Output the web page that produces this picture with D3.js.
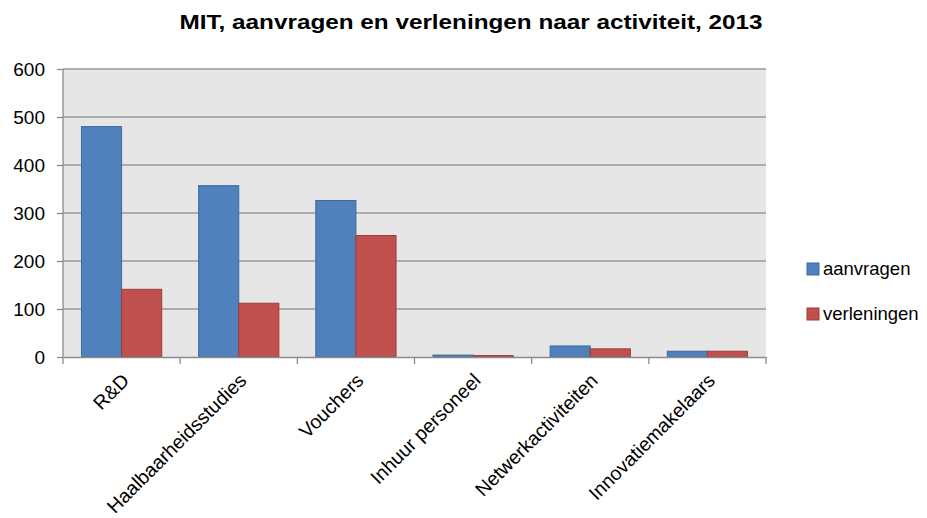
<!DOCTYPE html>
<html><head><meta charset="utf-8">
<script src="https://cdn.jsdelivr.net/npm/d3@7"></script>
<style>body{margin:0;background:#fff}svg{display:block}text{font-family:"Liberation Sans",Arial,sans-serif}</style>
</head><body>
<svg id="c" width="927" height="518"></svg>
<script>
const categories = ["R&D","Haalbaarheidsstudies","Vouchers","Inhuur personeel","Netwerkactiviteiten","Innovatiemakelaars"];
const seriesNames = ["aanvragen","verleningen"];
const aanvragen = [480, 357, 326, 4, 23, 12];
const verleningen = [141, 112, 253, 3, 17, 12];
const yTicks = [0,100,200,300,400,500,600];
const colors = ["#4F81BD","#C0504D"];
const strokes = ["#3C6A9E","#9E3D3A"];

const svg = d3.select("#c");
const m = {l:63, r:766, t:69, b:357};
const x = d3.scaleBand().domain(categories).range([m.l, m.r]).paddingInner(0).paddingOuter(0);
const x1 = d3.scaleBand().domain(seriesNames).range([0, x.bandwidth()]).paddingInner(0).paddingOuter(0.46);
const y = d3.scaleLinear().domain([0,600]).range([m.b, m.t]);

svg.append("rect").attr("x",m.l).attr("y",m.t).attr("width",m.r-m.l).attr("height",m.b-m.t).attr("fill","#E6E6E6");

// gridlines
svg.append("g").selectAll("line").data(yTicks.filter(d=>d>0)).join("line")
  .attr("x1",m.l).attr("x2",m.r).attr("y1",d=>y(d)).attr("y2",d=>y(d))
  .attr("stroke","#9A9A9A").attr("stroke-width",1.3);

// bars
const data = categories.map((c,i)=>({c, vals:[aanvragen[i], verleningen[i]]}));
const g = svg.append("g").selectAll("g").data(data).join("g").attr("transform",d=>`translate(${x(d.c)},0)`);
g.selectAll("rect").data(d=>d.vals.map((v,j)=>({k:seriesNames[j], v, j}))).join("rect")
  .attr("x",d=>x1(d.k)).attr("width",x1.bandwidth())
  .attr("y",d=>y(d.v)).attr("height",d=>y(0)-y(d.v))
  .attr("fill",d=>colors[d.j]).attr("stroke",d=>strokes[d.j]).attr("stroke-width",1);

// y axis
const ya = svg.append("g").attr("transform",`translate(${m.l},0)`)
  .call(d3.axisLeft(y).tickValues(yTicks).tickSize(6).tickPadding(12).tickFormat(d3.format("d")));
ya.select(".domain").attr("stroke","#8C8C8C").attr("stroke-width",1.3).attr("d",`M-0,${m.t}V${m.b}`);
ya.selectAll(".tick line").attr("stroke","#8C8C8C").attr("stroke-width",1.3);
ya.selectAll(".tick text").attr("font-size",19).attr("fill","#000");

// x axis
const xa = svg.append("g").attr("transform",`translate(0,${m.b})`)
  .call(d3.axisBottom(x).tickSize(0).tickFormat(""));
xa.select(".domain").attr("stroke","#8C8C8C").attr("stroke-width",1.3);
const bounds = categories.map(c=>x(c)).concat([m.r]);
xa.append("g").selectAll("line").data(bounds).join("line")
  .attr("x1",d=>d).attr("x2",d=>d).attr("y1",0).attr("y2",7).attr("stroke","#8C8C8C").attr("stroke-width",1.3);
xa.append("g").selectAll("text").data(categories).join("text")
  .attr("transform",d=>`translate(${x(d)+x.bandwidth()/2-1},15) rotate(-45)`)
  .attr("text-anchor","end").attr("dy","0.71em").attr("font-size",19.5).attr("fill","#000").text(d=>d);

// title
svg.append("text").attr("x",471).attr("y",29).attr("text-anchor","middle")
  .attr("font-size",21).attr("font-weight","bold").attr("fill","#000")
  .attr("textLength",583).attr("lengthAdjust","spacingAndGlyphs")
  .text("MIT, aanvragen en verleningen naar activiteit, 2013");

// legend
const lg = svg.append("g").selectAll("g").data(seriesNames).join("g")
  .attr("transform",(d,i)=>`translate(807,${263+i*45})`);
lg.append("rect").attr("width",12).attr("height",12).attr("fill",(d,i)=>colors[i]).attr("stroke",(d,i)=>strokes[i]);
lg.append("text").attr("x",16).attr("y",12).attr("font-size",18.5).attr("fill","#000").text(d=>d);
</script>
</body></html>
